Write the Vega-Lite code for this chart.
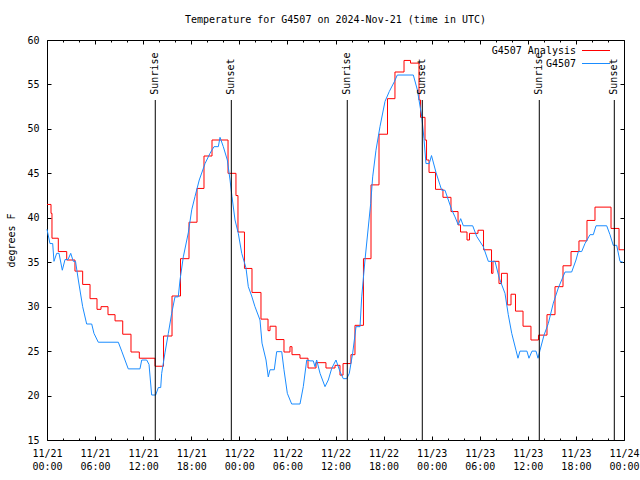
{
  "$schema": "https://vega.github.io/schema/vega-lite/v6.json",
  "width": 577,
  "height": 400,
  "autosize": {"type": "none"},
  "padding": {"left": 47, "top": 40, "right": 16, "bottom": 40},
  "background": "white",
  "title": {"text": "Temperature for G4507 on 2024-Nov-21 (time in UTC)", "fontSize": 10, "fontWeight": "normal", "font": "DejaVu Sans Mono", "offset": 10, "color": "black"},
  "config": {
    "view": {"stroke": "black", "strokeWidth": 1},
    "font": "DejaVu Sans Mono",
    "axis": {"domain": false, "grid": false, "labelFont": "DejaVu Sans Mono", "labelFontSize": 10, "labelColor": "black", "tickColor": "black", "titleFont": "DejaVu Sans Mono", "titleFontSize": 10, "titleFontWeight": "normal", "titleColor": "black"}
  },
  "datasets": {
    "temps": [
      {"s": "G4507 Analysis", "h": 0, "t": 41.5}, {"s": "G4507 Analysis", "h": 0.5, "t": 40.5}, {"s": "G4507 Analysis", "h": 0.62, "t": 37.7}, {"s": "G4507 Analysis", "h": 1.41, "t": 36.2}, {"s": "G4507 Analysis", "h": 2.46, "t": 35.25}, {"s": "G4507 Analysis", "h": 3.49, "t": 34.0}, {"s": "G4507 Analysis", "h": 4.45, "t": 32.5}, {"s": "G4507 Analysis", "h": 5.37, "t": 30.9}, {"s": "G4507 Analysis", "h": 6.24, "t": 29.7}, {"s": "G4507 Analysis", "h": 6.74, "t": 30.0}, {"s": "G4507 Analysis", "h": 7.61, "t": 29.1}, {"s": "G4507 Analysis", "h": 8.49, "t": 28.4}, {"s": "G4507 Analysis", "h": 9.45, "t": 26.9}, {"s": "G4507 Analysis", "h": 10.48, "t": 24.9}, {"s": "G4507 Analysis", "h": 11.52, "t": 24.2}, {"s": "G4507 Analysis", "h": 13.48, "t": 23.3}, {"s": "G4507 Analysis", "h": 14.54, "t": 26.7}, {"s": "G4507 Analysis", "h": 15.6, "t": 31.2}, {"s": "G4507 Analysis", "h": 16.66, "t": 35.4}, {"s": "G4507 Analysis", "h": 17.72, "t": 39.5}, {"s": "G4507 Analysis", "h": 18.72, "t": 43.3}, {"s": "G4507 Analysis", "h": 19.59, "t": 46.95}, {"s": "G4507 Analysis", "h": 20.59, "t": 48.75}, {"s": "G4507 Analysis", "h": 22.59, "t": 45.0}, {"s": "G4507 Analysis", "h": 23.58, "t": 42.5}, {"s": "G4507 Analysis", "h": 23.83, "t": 38.4}, {"s": "G4507 Analysis", "h": 24.64, "t": 34.3}, {"s": "G4507 Analysis", "h": 25.58, "t": 31.6}, {"s": "G4507 Analysis", "h": 26.7, "t": 28.6}, {"s": "G4507 Analysis", "h": 27.58, "t": 27.3}, {"s": "G4507 Analysis", "h": 27.83, "t": 27.8}, {"s": "G4507 Analysis", "h": 28.58, "t": 26.3}, {"s": "G4507 Analysis", "h": 29.57, "t": 24.9}, {"s": "G4507 Analysis", "h": 30.32, "t": 25.5}, {"s": "G4507 Analysis", "h": 30.57, "t": 24.6}, {"s": "G4507 Analysis", "h": 31.57, "t": 24.2}, {"s": "G4507 Analysis", "h": 32.57, "t": 23.1}, {"s": "G4507 Analysis", "h": 33.57, "t": 23.7}, {"s": "G4507 Analysis", "h": 34.81, "t": 23.1}, {"s": "G4507 Analysis", "h": 35.94, "t": 23.4}, {"s": "G4507 Analysis", "h": 36.56, "t": 22.3}, {"s": "G4507 Analysis", "h": 36.94, "t": 23.6}, {"s": "G4507 Analysis", "h": 37.93, "t": 24.6}, {"s": "G4507 Analysis", "h": 38.43, "t": 27.9}, {"s": "G4507 Analysis", "h": 39.49, "t": 35.4}, {"s": "G4507 Analysis", "h": 40.43, "t": 43.7}, {"s": "G4507 Analysis", "h": 41.43, "t": 49.4}, {"s": "G4507 Analysis", "h": 42.49, "t": 53.4}, {"s": "G4507 Analysis", "h": 43.42, "t": 56.4}, {"s": "G4507 Analysis", "h": 44.55, "t": 57.7}, {"s": "G4507 Analysis", "h": 45.36, "t": 57.4}, {"s": "G4507 Analysis", "h": 46.42, "t": 53.25}, {"s": "G4507 Analysis", "h": 46.61, "t": 51.3}, {"s": "G4507 Analysis", "h": 47.17, "t": 48.75}, {"s": "G4507 Analysis", "h": 47.36, "t": 46.5}, {"s": "G4507 Analysis", "h": 47.67, "t": 45.1}, {"s": "G4507 Analysis", "h": 48.48, "t": 43.2}, {"s": "G4507 Analysis", "h": 49.41, "t": 42.3}, {"s": "G4507 Analysis", "h": 50.41, "t": 40.7}, {"s": "G4507 Analysis", "h": 51.29, "t": 39.2}, {"s": "G4507 Analysis", "h": 51.6, "t": 38.4}, {"s": "G4507 Analysis", "h": 52.41, "t": 37.5}, {"s": "G4507 Analysis", "h": 52.72, "t": 38.25}, {"s": "G4507 Analysis", "h": 53.78, "t": 38.6}, {"s": "G4507 Analysis", "h": 54.47, "t": 36.4}, {"s": "G4507 Analysis", "h": 55.47, "t": 33.75}, {"s": "G4507 Analysis", "h": 55.65, "t": 35.1}, {"s": "G4507 Analysis", "h": 56.4, "t": 32.6}, {"s": "G4507 Analysis", "h": 56.71, "t": 33.75}, {"s": "G4507 Analysis", "h": 57.44, "t": 30.2}, {"s": "G4507 Analysis", "h": 57.9, "t": 31.4}, {"s": "G4507 Analysis", "h": 58.46, "t": 29.5}, {"s": "G4507 Analysis", "h": 59.4, "t": 27.8}, {"s": "G4507 Analysis", "h": 60.39, "t": 26.25}, {"s": "G4507 Analysis", "h": 61.33, "t": 26.8}, {"s": "G4507 Analysis", "h": 62.39, "t": 29.1}, {"s": "G4507 Analysis", "h": 63.39, "t": 32.25}, {"s": "G4507 Analysis", "h": 64.39, "t": 34.6}, {"s": "G4507 Analysis", "h": 65.39, "t": 36.2}, {"s": "G4507 Analysis", "h": 66.38, "t": 37.4}, {"s": "G4507 Analysis", "h": 67.38, "t": 39.7}, {"s": "G4507 Analysis", "h": 68.38, "t": 41.2}, {"s": "G4507 Analysis", "h": 70.38, "t": 38.8}, {"s": "G4507 Analysis", "h": 71.38, "t": 36.4}, {"s": "G4507 Analysis", "h": 72, "t": 36.4},
      {"s": "G4507", "h": 0.0, "t": 38.7}, {"s": "G4507", "h": 0.37, "t": 37.1}, {"s": "G4507", "h": 0.71, "t": 37.1}, {"s": "G4507", "h": 0.87, "t": 35.1}, {"s": "G4507", "h": 1.21, "t": 36.0}, {"s": "G4507", "h": 1.5, "t": 36.0}, {"s": "G4507", "h": 1.91, "t": 34.1}, {"s": "G4507", "h": 2.25, "t": 35.3}, {"s": "G4507", "h": 2.62, "t": 35.3}, {"s": "G4507", "h": 2.96, "t": 36.0}, {"s": "G4507", "h": 3.28, "t": 35.1}, {"s": "G4507", "h": 3.56, "t": 35.1}, {"s": "G4507", "h": 3.91, "t": 33.0}, {"s": "G4507", "h": 4.45, "t": 30.0}, {"s": "G4507", "h": 4.95, "t": 28.05}, {"s": "G4507", "h": 5.58, "t": 28.05}, {"s": "G4507", "h": 5.86, "t": 27.0}, {"s": "G4507", "h": 6.4, "t": 26.0}, {"s": "G4507", "h": 8.9, "t": 26.0}, {"s": "G4507", "h": 9.32, "t": 25.0}, {"s": "G4507", "h": 9.73, "t": 24.0}, {"s": "G4507", "h": 10.14, "t": 23.0}, {"s": "G4507", "h": 11.6, "t": 23.0}, {"s": "G4507", "h": 11.82, "t": 24.0}, {"s": "G4507", "h": 12.44, "t": 24.0}, {"s": "G4507", "h": 12.73, "t": 23.5}, {"s": "G4507", "h": 13.06, "t": 20.06}, {"s": "G4507", "h": 13.56, "t": 20.06}, {"s": "G4507", "h": 13.89, "t": 20.9}, {"s": "G4507", "h": 14.19, "t": 20.9}, {"s": "G4507", "h": 14.31, "t": 22.5}, {"s": "G4507", "h": 14.72, "t": 24.8}, {"s": "G4507", "h": 15.14, "t": 27.0}, {"s": "G4507", "h": 15.56, "t": 29.25}, {"s": "G4507", "h": 15.97, "t": 31.1}, {"s": "G4507", "h": 16.38, "t": 31.1}, {"s": "G4507", "h": 16.6, "t": 33.0}, {"s": "G4507", "h": 17.01, "t": 35.6}, {"s": "G4507", "h": 17.63, "t": 38.3}, {"s": "G4507", "h": 18.06, "t": 40.9}, {"s": "G4507", "h": 18.47, "t": 42.4}, {"s": "G4507", "h": 19.0, "t": 44.25}, {"s": "G4507", "h": 19.72, "t": 46.1}, {"s": "G4507", "h": 20.34, "t": 47.25}, {"s": "G4507", "h": 20.84, "t": 48.0}, {"s": "G4507", "h": 21.38, "t": 48.0}, {"s": "G4507", "h": 21.59, "t": 49.05}, {"s": "G4507", "h": 22.0, "t": 48.0}, {"s": "G4507", "h": 22.5, "t": 46.5}, {"s": "G4507", "h": 22.84, "t": 44.25}, {"s": "G4507", "h": 23.08, "t": 42.4}, {"s": "G4507", "h": 23.46, "t": 39.75}, {"s": "G4507", "h": 23.87, "t": 38.25}, {"s": "G4507", "h": 24.3, "t": 36.0}, {"s": "G4507", "h": 24.83, "t": 34.35}, {"s": "G4507", "h": 25.12, "t": 32.25}, {"s": "G4507", "h": 25.54, "t": 31.2}, {"s": "G4507", "h": 25.95, "t": 30.0}, {"s": "G4507", "h": 26.58, "t": 28.5}, {"s": "G4507", "h": 26.83, "t": 25.9}, {"s": "G4507", "h": 27.33, "t": 24.0}, {"s": "G4507", "h": 27.61, "t": 22.1}, {"s": "G4507", "h": 27.83, "t": 22.9}, {"s": "G4507", "h": 28.36, "t": 22.9}, {"s": "G4507", "h": 28.66, "t": 24.94}, {"s": "G4507", "h": 29.29, "t": 24.94}, {"s": "G4507", "h": 29.57, "t": 22.9}, {"s": "G4507", "h": 29.99, "t": 20.25}, {"s": "G4507", "h": 30.53, "t": 19.05}, {"s": "G4507", "h": 31.57, "t": 19.05}, {"s": "G4507", "h": 31.98, "t": 21.0}, {"s": "G4507", "h": 32.41, "t": 24.0}, {"s": "G4507", "h": 32.82, "t": 23.9}, {"s": "G4507", "h": 33.23, "t": 23.9}, {"s": "G4507", "h": 33.44, "t": 23.25}, {"s": "G4507", "h": 33.65, "t": 24.0}, {"s": "G4507", "h": 34.07, "t": 22.5}, {"s": "G4507", "h": 34.69, "t": 21.0}, {"s": "G4507", "h": 35.1, "t": 21.75}, {"s": "G4507", "h": 35.53, "t": 23.06}, {"s": "G4507", "h": 36.06, "t": 24.0}, {"s": "G4507", "h": 36.56, "t": 22.7}, {"s": "G4507", "h": 36.97, "t": 21.9}, {"s": "G4507", "h": 37.4, "t": 21.9}, {"s": "G4507", "h": 37.72, "t": 22.5}, {"s": "G4507", "h": 38.15, "t": 24.8}, {"s": "G4507", "h": 38.56, "t": 27.75}, {"s": "G4507", "h": 39.06, "t": 27.75}, {"s": "G4507", "h": 39.27, "t": 31.1}, {"s": "G4507", "h": 39.68, "t": 35.25}, {"s": "G4507", "h": 40.39, "t": 41.6}, {"s": "G4507", "h": 40.64, "t": 44.6}, {"s": "G4507", "h": 41.05, "t": 47.6}, {"s": "G4507", "h": 41.55, "t": 50.25}, {"s": "G4507", "h": 42.18, "t": 53.1}, {"s": "G4507", "h": 42.71, "t": 54.2}, {"s": "G4507", "h": 43.34, "t": 55.3}, {"s": "G4507", "h": 43.71, "t": 56.06}, {"s": "G4507", "h": 45.71, "t": 56.06}, {"s": "G4507", "h": 46.21, "t": 54.4}, {"s": "G4507", "h": 46.76, "t": 51.4}, {"s": "G4507", "h": 47.04, "t": 48.9}, {"s": "G4507", "h": 47.29, "t": 46.1}, {"s": "G4507", "h": 47.7, "t": 46.1}, {"s": "G4507", "h": 47.98, "t": 47.0}, {"s": "G4507", "h": 48.54, "t": 45.1}, {"s": "G4507", "h": 49.25, "t": 43.1}, {"s": "G4507", "h": 49.66, "t": 43.1}, {"s": "G4507", "h": 50.08, "t": 42.0}, {"s": "G4507", "h": 50.5, "t": 40.9}, {"s": "G4507", "h": 50.91, "t": 40.1}, {"s": "G4507", "h": 51.32, "t": 39.2}, {"s": "G4507", "h": 51.62, "t": 39.9}, {"s": "G4507", "h": 51.95, "t": 39.1}, {"s": "G4507", "h": 53.12, "t": 39.1}, {"s": "G4507", "h": 53.62, "t": 37.9}, {"s": "G4507", "h": 54.44, "t": 36.75}, {"s": "G4507", "h": 55.07, "t": 35.1}, {"s": "G4507", "h": 55.9, "t": 35.1}, {"s": "G4507", "h": 56.44, "t": 33.2}, {"s": "G4507", "h": 57.15, "t": 31.5}, {"s": "G4507", "h": 57.56, "t": 29.1}, {"s": "G4507", "h": 57.99, "t": 27.0}, {"s": "G4507", "h": 58.52, "t": 25.1}, {"s": "G4507", "h": 58.77, "t": 24.2}, {"s": "G4507", "h": 59.02, "t": 25.0}, {"s": "G4507", "h": 59.89, "t": 25.0}, {"s": "G4507", "h": 60.14, "t": 24.2}, {"s": "G4507", "h": 60.52, "t": 25.0}, {"s": "G4507", "h": 61.02, "t": 25.0}, {"s": "G4507", "h": 61.27, "t": 24.2}, {"s": "G4507", "h": 61.52, "t": 25.1}, {"s": "G4507", "h": 62.02, "t": 26.8}, {"s": "G4507", "h": 62.55, "t": 28.1}, {"s": "G4507", "h": 63.18, "t": 30.4}, {"s": "G4507", "h": 63.8, "t": 32.1}, {"s": "G4507", "h": 64.64, "t": 33.9}, {"s": "G4507", "h": 65.47, "t": 33.9}, {"s": "G4507", "h": 66.01, "t": 35.25}, {"s": "G4507", "h": 66.3, "t": 36.2}, {"s": "G4507", "h": 66.72, "t": 36.2}, {"s": "G4507", "h": 67.13, "t": 37.1}, {"s": "G4507", "h": 67.76, "t": 38.1}, {"s": "G4507", "h": 68.17, "t": 38.1}, {"s": "G4507", "h": 68.51, "t": 39.1}, {"s": "G4507", "h": 69.84, "t": 39.1}, {"s": "G4507", "h": 70.25, "t": 38.1}, {"s": "G4507", "h": 70.66, "t": 36.9}, {"s": "G4507", "h": 71.09, "t": 36.9}, {"s": "G4507", "h": 71.5, "t": 35.1}, {"s": "G4507", "h": 71.87, "t": 35.0}
    ],
    "events": [
      {"h": 13.51, "e": "Sunrise"}, {"h": 23.0, "e": "Sunset"}, {"h": 37.47, "e": "Sunrise"}, {"h": 46.83, "e": "Sunset"}, {"h": 61.43, "e": "Sunrise"}, {"h": 70.79, "e": "Sunset"}
    ]
  },
  "layer": [
    {
      "data": {"name": "temps"},
      "transform": [{"filter": "datum.s == 'G4507 Analysis'"}],
      "mark": {"type": "line", "interpolate": "step-after", "strokeWidth": 1},
      "encoding": {
        "x": {"field": "h", "type": "quantitative", "scale": {"domain": [0, 72], "nice": false, "zero": false},
          "axis": {"orient": "bottom", "title": null, "values": [0, 6, 12, 18, 24, 30, 36, 42, 48, 54, 60, 66, 72], "tickSize": -4, "labelPadding": 12, "labelLineHeight": 13, "labelFlush": false, "labelOverlap": false,
            "labelExpr": "['11/' + (21 + floor(datum.value / 24)), ((datum.value % 24) < 10 ? '0' : '') + (datum.value % 24) + ':00']"}},
        "y": {"field": "t", "type": "quantitative", "scale": {"domain": [15, 60], "nice": false, "zero": false},
          "axis": {"orient": "left", "title": "degrees F", "values": [15, 20, 25, 30, 35, 40, 45, 50, 55, 60], "tickSize": -4, "labelPadding": 12, "titlePadding": 10}},
        "color": {"field": "s", "type": "nominal", "scale": {"domain": ["G4507 Analysis", "G4507"], "range": ["#ff0000", "#1a8cff"]},
          "legend": {"orient": "none", "legendX": 544, "legendY": 5.5, "title": null, "symbolType": "M-7,0H7", "symbolSize": 16, "symbolStrokeWidth": 1, "labelAlign": "right", "labelOffset": -25, "labelFontSize": 10, "labelFont": "DejaVu Sans Mono", "labelColor": "black", "rowPadding": 3, "padding": 0}}
      }
    },
    {
      "data": {"name": "temps"},
      "transform": [{"filter": "datum.s == 'G4507'"}],
      "mark": {"type": "line", "strokeWidth": 1},
      "encoding": {
        "x": {"field": "h", "type": "quantitative", "axis": {"orient": "top", "title": null, "labels": false, "values": [0, 6, 12, 18, 24, 30, 36, 42, 48, 54, 60, 66, 72], "tickSize": -4}},
        "y": {"field": "t", "type": "quantitative", "axis": {"orient": "right", "title": null, "labels": false, "values": [15, 20, 25, 30, 35, 40, 45, 50, 55, 60], "tickSize": -4}},
        "color": {"field": "s", "type": "nominal"}
      }
    },
    {
      "data": {"name": "events"},
      "mark": {"type": "rule", "color": "black", "strokeWidth": 1},
      "encoding": {
        "x": {"field": "h", "type": "quantitative", "axis": {"orient": "bottom", "title": null, "labels": false, "values": [2, 4, 8, 10, 14, 16, 20, 22, 26, 28, 32, 34, 38, 40, 44, 46, 50, 52, 56, 58, 62, 64, 68, 70], "tickSize": -2}},
        "y": {"datum": 53.25, "axis": null},
        "y2": {"datum": 15}
      }
    },
    {
      "data": {"name": "events"},
      "mark": {"type": "text", "angle": 270, "align": "left", "baseline": "middle", "fontSize": 10, "font": "DejaVu Sans Mono", "color": "black"},
      "encoding": {
        "x": {"field": "h", "type": "quantitative", "axis": {"orient": "top", "title": null, "labels": false, "values": [2, 4, 8, 10, 14, 16, 20, 22, 26, 28, 32, 34, 38, 40, 44, 46, 50, 52, 56, 58, 62, 64, 68, 70], "tickSize": -2}},
        "y": {"datum": 53.85, "axis": null},
        "text": {"field": "e"}
      }
    }
  ],
  "resolve": {"axis": {"x": "independent", "y": "independent"}}
}
